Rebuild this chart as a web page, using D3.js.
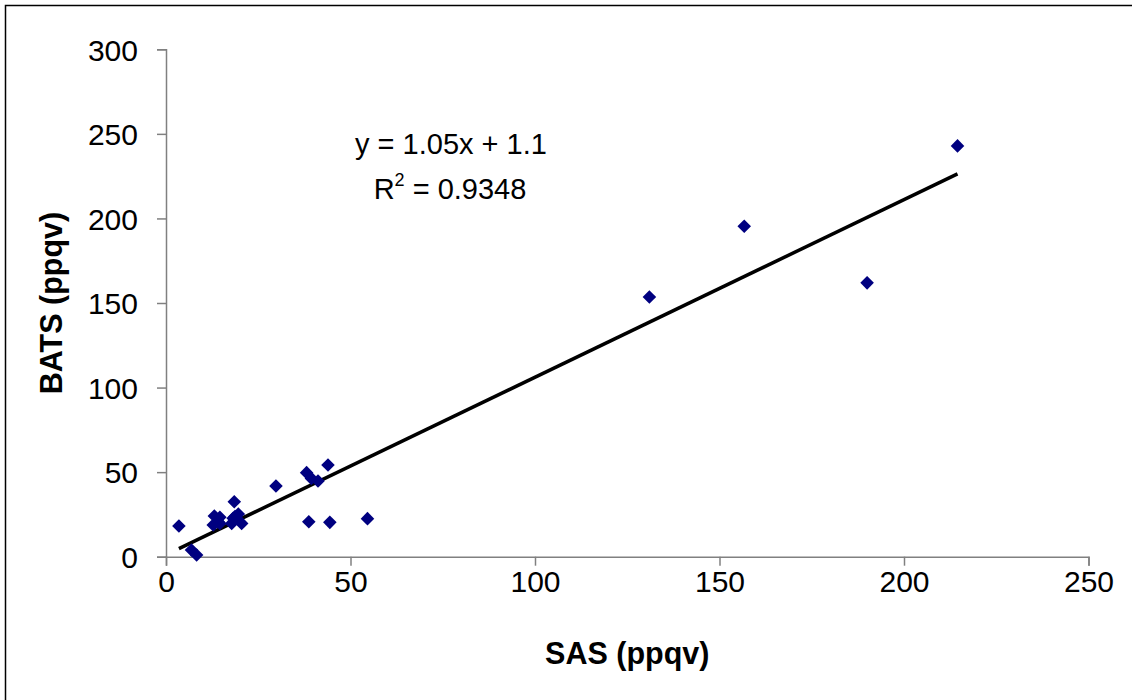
<!DOCTYPE html>
<html>
<head>
<meta charset="utf-8">
<script src="https://cdn.jsdelivr.net/npm/d3@7"></script>
<style>
  body { margin: 0; background: #fff; }
  text { font-family: Arial, "Liberation Sans", sans-serif; }
</style>
</head>
<body>
<div id="chart"></div>
<script>
// SAS vs BATS values (ppqv)
const sas  = [3.5, 6.9, 8.3, 12.8, 13.1, 14.1, 14.6, 14.6, 17.8, 18.2, 18.5, 18.7, 19.6, 20.5,
              29.8, 38.1, 38.7, 39.4, 41.2, 43.9, 44.4, 54.6, 131.0, 156.7, 190.0, 214.5];
const bats = [18.1, 4.0, 1.0, 18.7, 24.1, 20.7, 23.3, 19.7, 19.7, 22.7, 32.5, 23.7, 25.2, 19.7,
              41.8, 49.7, 20.7, 46.3, 44.8, 54.2, 20.3, 22.5, 153.6, 195.4, 161.9, 242.9];
const slope = 1.05, intercept = 1.1;
const eqLines = ["y = 1.05x + 1.1", "R", " = 0.9348"];
const xTicks = [0, 50, 100, 150, 200, 250];
const yTicks = [0, 50, 100, 150, 200, 250, 300];

const data = sas.map((x, i) => ({ x: x, y: bats[i] }));

const W = 1132, H = 700;
const margin = { top: 49.3, right: 43.5, bottom: 143.3, left: 166 };
const width = W - margin.left - margin.right;
const height = H - margin.top - margin.bottom;

const svg = d3.select("#chart").append("svg")
  .attr("width", W)
  .attr("height", H);

// outer frame
svg.append("rect")
  .attr("x", 5.5).attr("y", 5.5)
  .attr("width", W + 20).attr("height", H + 20)
  .attr("fill", "none")
  .attr("stroke", "#000")
  .attr("stroke-width", 1.5);

const g = svg.append("g")
  .attr("transform", `translate(${margin.left}, ${margin.top})`);

const xScale = d3.scaleLinear().domain([0, 250]).range([0, width]);
const yScale = d3.scaleLinear().domain([0, 300]).range([height, 0]);

// axes
const xAxis = g.append("g")
  .attr("transform", `translate(0, ${height})`)
  .call(d3.axisBottom(xScale).tickValues(xTicks).tickSize(9).tickPadding(5));
const yAxis = g.append("g")
  .call(d3.axisLeft(yScale).tickValues(yTicks).tickSize(9).tickPadding(19));

[xAxis, yAxis].forEach((a) => {
  a.selectAll(".domain").attr("stroke", "#808080").attr("stroke-width", 1.5);
  a.selectAll(".tick line").attr("stroke", "#808080").attr("stroke-width", 1.5);
  a.selectAll(".tick text")
    .attr("fill", "#000")
    .style("font-size", "30px")
    .style("font-family", "Arial, 'Liberation Sans', sans-serif");
});
yAxis.selectAll(".tick text").attr("dy", "0.36em");

// axis titles
svg.append("text")
  .attr("x", margin.left + width / 2)
  .attr("y", 664)
  .attr("text-anchor", "middle")
  .style("font-size", "30.5px")
  .style("font-weight", "bold")
  .text("SAS (ppqv)");

svg.append("text")
  .attr("transform", `translate(62, ${margin.top + height / 2}) rotate(-90)`)
  .attr("text-anchor", "middle")
  .style("font-size", "30.5px")
  .style("font-weight", "bold")
  .text("BATS (ppqv)");

// trend line
const xMin = d3.min(sas), xMax = d3.max(sas);
g.append("line")
  .attr("x1", xScale(xMin)).attr("y1", yScale(slope * xMin + intercept))
  .attr("x2", xScale(xMax)).attr("y2", yScale(slope * xMax + intercept))
  .attr("stroke", "#000")
  .attr("stroke-width", 3.5);

// points
const diamond = d3.symbol().type(d3.symbolSquare).size(92);
g.selectAll("path.pt")
  .data(data)
  .enter()
  .append("path")
  .attr("class", "pt")
  .attr("d", diamond)
  .attr("transform", (d) => `translate(${xScale(d.x)}, ${yScale(d.y)}) rotate(45)`)
  .attr("fill", "#000080");

// equation
svg.append("text")
  .attr("x", 451).attr("y", 154)
  .attr("text-anchor", "middle")
  .style("font-size", "29px")
  .text(eqLines[0]);

const r2 = svg.append("text")
  .attr("x", 450).attr("y", 199)
  .attr("text-anchor", "middle")
  .style("font-size", "29px");
r2.append("tspan").text(eqLines[1]);
r2.append("tspan").attr("dy", -13).style("font-size", "18px").text("2");
r2.append("tspan").attr("dy", 13).text(eqLines[2]);
</script>
</body>
</html>
